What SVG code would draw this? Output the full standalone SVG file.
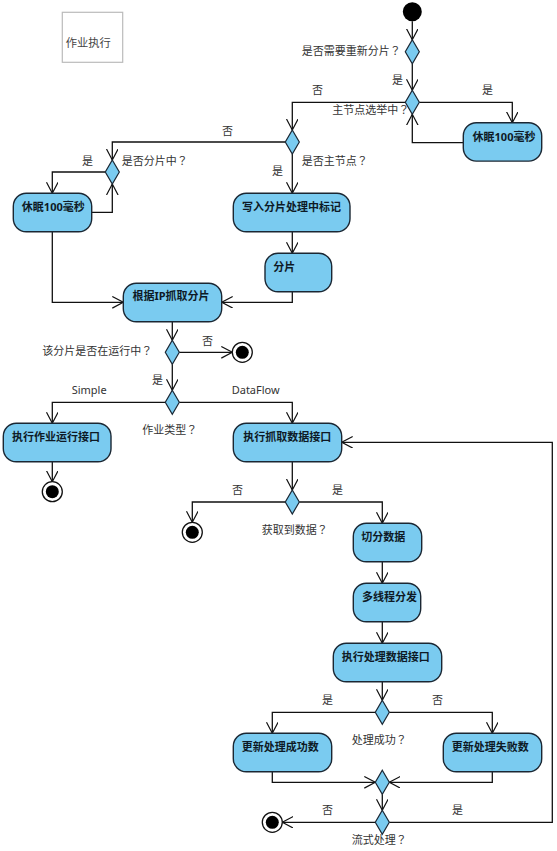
<svg xmlns="http://www.w3.org/2000/svg" width="557" height="851" viewBox="0 0 557 851">
<style>
.act{fill:#7ACBF0;stroke:#1B2733;stroke-width:1.4}
.dec{fill:#7ACBF0;stroke:#1B2733;stroke-width:1.2}
.at{font-family:"Noto Sans","Noto Sans CJK SC",sans-serif;font-size:11px;font-weight:bold;fill:#0E1A26;text-anchor:middle}
.lb{font-family:"Noto Sans CJK SC","Noto Sans",sans-serif;font-size:11px;fill:#333}
.en{font-family:"Noto Sans","Noto Sans CJK SC",sans-serif;font-size:11px;fill:#333}
.q{font-family:"Noto Sans CJK TC","Noto Sans CJK SC",sans-serif}
.ln{fill:none;stroke:#111;stroke-width:1.3}
.fin{fill:#fff;stroke:#111;stroke-width:1.3}
</style>
<defs>
<marker id="arr" markerUnits="userSpaceOnUse" markerWidth="14" markerHeight="14" refX="11" refY="6" orient="auto" viewBox="0 0 14 14">
<path d="M0,0.2 L11,6 L0,11.8" fill="none" stroke="#111" stroke-width="1.2"/>
</marker>
</defs>
<rect width="557" height="851" fill="#fff"/>

<g id="title">
<rect x="62.3" y="12.3" width="60.4" height="50" fill="#fff" stroke="#bbb" stroke-width="1.2"/>
<text x="65.7" y="47" class="lb" style="font-size:11.3px;fill:#444">作业执行</text>
</g>

<g id="connectors">
<path class="ln" d="M412.3,21.2 V39.7" marker-end="url(#arr)"/>
<path class="ln" d="M412.3,63.7 V90.3" marker-end="url(#arr)"/>
<path class="ln" d="M405.3,102.3 H292.3 V130" marker-end="url(#arr)"/>
<path class="ln" d="M419.3,102.3 H512.3 V122.7" marker-end="url(#arr)"/>
<path class="ln" d="M463.3,142.7 H412.3 V114.3" marker-end="url(#arr)"/>
<path class="ln" d="M285.3,142 H112.3 V160" marker-end="url(#arr)"/>
<path class="ln" d="M292.3,154 V193.3" marker-end="url(#arr)"/>
<path class="ln" d="M105.3,172 H52.3 V193.3" marker-end="url(#arr)"/>
<path class="ln" d="M91.7,212.3 H112.3 V184" marker-end="url(#arr)"/>
<path class="ln" d="M52.3,231.7 V302.3 H123.3" marker-end="url(#arr)"/>
<path class="ln" d="M292.3,231.7 V253.3" marker-end="url(#arr)"/>
<path class="ln" d="M292.3,291.7 V302.3 H221.7" marker-end="url(#arr)"/>
<path class="ln" d="M172.3,321.7 V340.3" marker-end="url(#arr)"/>
<path class="ln" d="M179.3,352.3 H232.3" marker-end="url(#arr)"/>
<path class="ln" d="M172.3,364.3 V390.3" marker-end="url(#arr)"/>
<path class="ln" d="M165.3,402.3 H52.3 V423.3" marker-end="url(#arr)"/>
<path class="ln" d="M179.3,402.3 H292.3 V423.3" marker-end="url(#arr)"/>
<path class="ln" d="M52.3,461.7 V481.7" marker-end="url(#arr)"/>
<path class="ln" d="M292.3,461.7 V490" marker-end="url(#arr)"/>
<path class="ln" d="M285.3,502 H192.3 V522.3" marker-end="url(#arr)"/>
<path class="ln" d="M299.3,502 H382.3 V523.3" marker-end="url(#arr)"/>
<path class="ln" d="M382.3,561.7 V583.3" marker-end="url(#arr)"/>
<path class="ln" d="M382.3,621.7 V643.3" marker-end="url(#arr)"/>
<path class="ln" d="M382.3,681.7 V700.3" marker-end="url(#arr)"/>
<path class="ln" d="M375.3,712.3 H272.3 V733.3" marker-end="url(#arr)"/>
<path class="ln" d="M389.3,712.3 H492.3 V733.3" marker-end="url(#arr)"/>
<path class="ln" d="M272.3,771.7 V782.3 H375.3" marker-end="url(#arr)"/>
<path class="ln" d="M492.3,771.7 V782.3 H389.3" marker-end="url(#arr)"/>
<path class="ln" d="M382.3,794.3 V810.3" marker-end="url(#arr)"/>
<path class="ln" d="M375.3,822.3 H282.3" marker-end="url(#arr)"/>
<path class="ln" d="M389.3,822.3 H552.3 V442.3 H341.7" marker-end="url(#arr)"/>
<text class="lb" x="392" y="84">是</text>
<text class="lb" x="312" y="94">否</text>
<text class="lb" x="482" y="94">是</text>
<text class="lb" x="222" y="135">否</text>
<text class="lb" x="272" y="175">是</text>
<text class="lb" x="82" y="165">是</text>
<text class="lb" x="202" y="345">否</text>
<text class="lb" x="152" y="384">是</text>
<text class="en" x="71.7" y="394">Simple</text>
<text class="en" x="231.7" y="394">DataFlow</text>
<text class="lb" x="232" y="494">否</text>
<text class="lb" x="332" y="494">是</text>
<text class="lb" x="322" y="704">是</text>
<text class="lb" x="432" y="704">否</text>
<text class="lb" x="322" y="814">否</text>
<text class="lb" x="452" y="814">是</text>
</g>

<g id="start"><circle cx="412.3" cy="11.7" r="9.5" fill="#000"/></g>

<g id="d-reshard">
<polygon class="dec" points="412.3,39.7 419.3,51.7 412.3,63.7 405.3,51.7"/>
<text class="lb" x="301.7" y="55">是否需要重新分片<tspan class="q">？</tspan></text>
</g>
<g id="d-electing">
<polygon class="dec" points="412.3,90.3 419.3,102.3 412.3,114.3 405.3,102.3"/>
<text class="lb" x="332.3" y="114">主节点选举中<tspan class="q">？</tspan></text>
</g>
<g id="sleep-right">
<rect class="act" x="463.3" y="122.7" width="78.4" height="38.4" rx="13"/>
<text class="at" x="504" y="140.7">休眠100毫秒</text>
</g>
<g id="d-master">
<polygon class="dec" points="292.3,130 299.3,142 292.3,154 285.3,142"/>
<text class="lb" x="301.7" y="165">是否主节点<tspan class="q">？</tspan></text>
</g>
<g id="d-sharding">
<polygon class="dec" points="112.3,160 119.3,172 112.3,184 105.3,172"/>
<text class="lb" x="121.7" y="165">是否分片中<tspan class="q">？</tspan></text>
</g>
<g id="sleep-left">
<rect class="act" x="13.3" y="193.3" width="78.4" height="38.4" rx="13"/>
<text class="at" x="53.3" y="210.7">休眠100毫秒</text>
</g>
<g id="write-mark">
<rect class="act" x="233.3" y="193.3" width="116.7" height="38.4" rx="13"/>
<text class="at" x="291.5" y="210.7">写入分片处理中标记</text>
</g>
<g id="shard">
<rect class="act" x="265" y="253.3" width="66.7" height="38.4" rx="13"/>
<text class="at" x="273.3" y="271.3" style="text-anchor:start">分片</text>
</g>
<g id="fetch-by-ip">
<rect class="act" x="123.3" y="283.3" width="98.4" height="38.4" rx="13"/>
<text class="at" x="171" y="299.7">根据IP抓取分片</text>
</g>
<g id="d-running">
<polygon class="dec" points="172.3,340.3 179.3,352.3 172.3,364.3 165.3,352.3"/>
<text class="lb" x="42.3" y="355">该分片是否在运行中<tspan class="q">？</tspan></text>
</g>
<g id="end-1"><circle class="fin" cx="242.3" cy="352.3" r="10"/><circle cx="242.3" cy="352.3" r="6.5" fill="#000"/></g>
<g id="d-jobtype">
<polygon class="dec" points="172.3,390.3 179.3,402.3 172.3,414.3 165.3,402.3"/>
<text class="lb" x="142.3" y="434">作业类型<tspan class="q">？</tspan></text>
</g>
<g id="run-job">
<rect class="act" x="3.3" y="423.3" width="107.7" height="38.4" rx="13"/>
<text class="at" x="56" y="440.7">执行作业运行接口</text>
</g>
<g id="end-2"><circle class="fin" cx="52.3" cy="491.7" r="10"/><circle cx="52.3" cy="491.7" r="6.5" fill="#000"/></g>
<g id="fetch-data">
<rect class="act" x="233.3" y="423.3" width="108.4" height="38.4" rx="13"/>
<text class="at" x="287.3" y="440.7">执行抓取数据接口</text>
</g>
<g id="d-gotdata">
<polygon class="dec" points="292.3,490 299.3,502 292.3,514 285.3,502"/>
<text class="lb" x="261.7" y="534">获取到数据<tspan class="q">？</tspan></text>
</g>
<g id="end-3"><circle class="fin" cx="192.3" cy="532.3" r="10"/><circle cx="192.3" cy="532.3" r="6.5" fill="#000"/></g>
<g id="split-data">
<rect class="act" x="353.3" y="523.3" width="68.4" height="38.4" rx="13"/>
<text class="at" x="383.3" y="540.7">切分数据</text>
</g>
<g id="dispatch">
<rect class="act" x="353.3" y="583.3" width="67.4" height="38.4" rx="13"/>
<text class="at" x="389.5" y="600.5">多线程分发</text>
</g>
<g id="process-data">
<rect class="act" x="333.3" y="643.3" width="108.4" height="38.4" rx="13"/>
<text class="at" x="385.8" y="660.7">执行处理数据接口</text>
</g>
<g id="d-success">
<polygon class="dec" points="382.3,700.3 389.3,712.3 382.3,724.3 375.3,712.3"/>
<text class="lb" x="351.7" y="744">处理成功<tspan class="q">？</tspan></text>
</g>
<g id="update-ok">
<rect class="act" x="233.3" y="733.3" width="98.4" height="38.4" rx="13"/>
<text class="at" x="280.3" y="750.5">更新处理成功数</text>
</g>
<g id="update-fail">
<rect class="act" x="443.3" y="733.3" width="98.4" height="38.4" rx="13"/>
<text class="at" x="490.3" y="750.5">更新处理失败数</text>
</g>
<g id="merge">
<polygon class="dec" points="382.3,770.3 389.3,782.3 382.3,794.3 375.3,782.3"/>
</g>
<g id="d-stream">
<polygon class="dec" points="382.3,810.3 389.3,822.3 382.3,834.3 375.3,822.3"/>
<text class="lb" x="351.7" y="844">流式处理<tspan class="q">？</tspan></text>
</g>
<g id="end-4"><circle class="fin" cx="272.3" cy="822.3" r="10"/><circle cx="272.3" cy="822.3" r="6.5" fill="#000"/></g>
</svg>
